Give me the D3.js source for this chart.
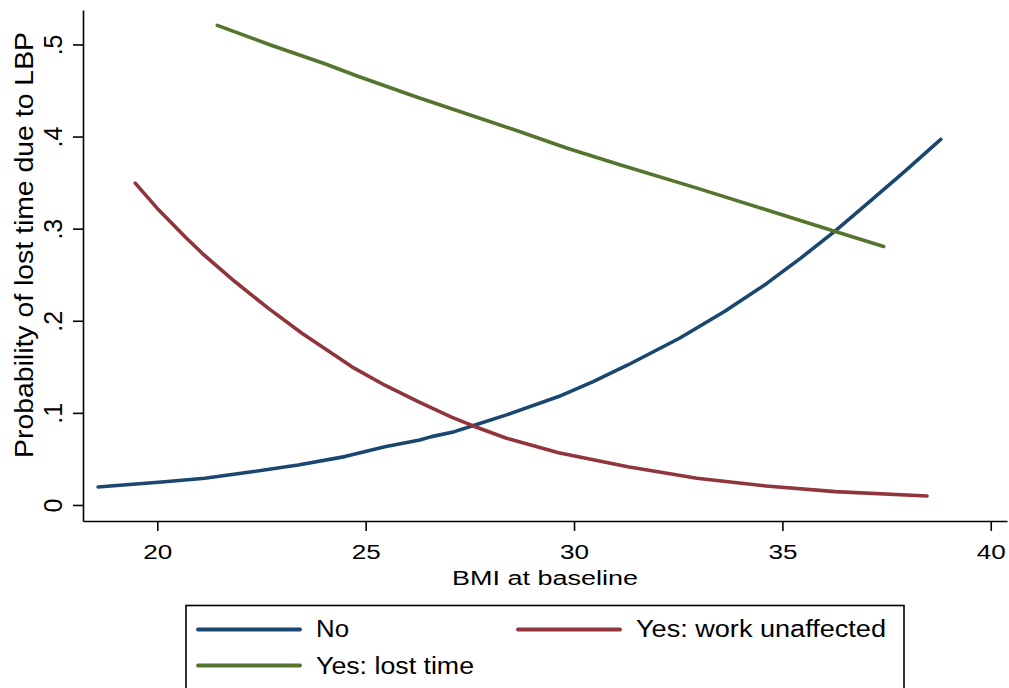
<!DOCTYPE html>
<html>
<head>
<meta charset="utf-8">
<script src="https://cdn.jsdelivr.net/npm/d3@7"></script>
<style>
  html, body { margin: 0; padding: 0; background: #fff; }
  svg { display: block; }
  text { font-family: "Liberation Sans", Arial, Helvetica, sans-serif; fill: #000; }
</style>
</head>
<body>
<svg id="chart" width="1009" height="688"></svg>
<script>
// ---- data ----
const seriesNames = ["No", "Yes: work unaffected", "Yes: lost time"];
const seriesColors = ["#1a476f", "#90353b", "#55752f"];

const bmiNo  = [18.58, 19.18, 20.18, 21.14, 22.27, 23.38, 24.50, 25.46, 26.30, 26.58, 27.13, 27.55, 28.38, 29.63, 30.46, 31.29, 32.53, 33.61, 34.61, 35.44, 36.27, 37.10, 37.93, 38.80];
const probNo = [0.0196, 0.0217, 0.0253, 0.0290, 0.0360, 0.0435, 0.0525, 0.0633, 0.0706, 0.0742, 0.0796, 0.0858, 0.0978, 0.1177, 0.1340, 0.1520, 0.1810, 0.2100, 0.2400, 0.2680, 0.2976, 0.3295, 0.3620, 0.3970];

const bmiUnaff  = [19.47, 20.00, 20.66, 21.07, 21.86, 22.66, 23.47, 24.67, 25.46, 26.26, 27.06, 27.58, 28.38, 29.63, 31.29, 32.95, 34.61, 36.27, 38.47];
const probUnaff = [0.3494, 0.3220, 0.2914, 0.2735, 0.2426, 0.2137, 0.1865, 0.1500, 0.1300, 0.1122, 0.0953, 0.0858, 0.0724, 0.0568, 0.0416, 0.0290, 0.0206, 0.0145, 0.0098];

const bmiLost  = [21.44, 22.70, 24.02, 24.78, 26.22, 27.42, 28.62, 29.82, 31.10, 32.95, 34.61, 36.27, 37.43];
const probLost = [0.5207, 0.4997, 0.4790, 0.4660, 0.4429, 0.4247, 0.4066, 0.3875, 0.3693, 0.3440, 0.3205, 0.2969, 0.2806];

const xTicks = [20, 25, 30, 35, 40];
const xTickLabels = ["20", "25", "30", "35", "40"];
const yTicks = [0, 0.1, 0.2, 0.3, 0.4, 0.5];
const yTickLabels = ["0", ".1", ".2", ".3", ".4", ".5"];

const xTitle = "BMI at baseline";
const yTitle = "Probability of lost time due to LBP";

// ---- drawing ----
const svg = d3.select("#chart");

const x = d3.scaleLinear().domain([18.217, 40.39]).range([83, 1007]);
const y = d3.scaleLinear().domain([-0.0174, 0.5374]).range([521, 10]);

// x axis
const xAxis = d3.axisBottom(x)
  .tickValues(xTicks)
  .tickFormat((d, i) => xTickLabels[i])
  .tickSizeInner(10)
  .tickSizeOuter(0)
  .tickPadding(6);
const gx = svg.append("g").attr("transform", "translate(0,521)").call(xAxis);
gx.select(".domain").attr("stroke", "#000").attr("stroke-width", 1.6);
gx.selectAll(".tick line").attr("stroke", "#000").attr("stroke-width", 1.6);
gx.selectAll(".tick text")
  .attr("y", 38)
  .attr("dy", null)
  .attr("font-size", 20)
  .attr("textLength", 29)
  .attr("lengthAdjust", "spacingAndGlyphs")
  .attr("fill", "#000");

// y axis
const yAxis = d3.axisLeft(y)
  .tickValues(yTicks)
  .tickFormat((d, i) => yTickLabels[i])
  .tickSizeInner(10)
  .tickSizeOuter(0);
const gy = svg.append("g").attr("transform", "translate(83,0)").call(yAxis);
gy.select(".domain").attr("stroke", "#000").attr("stroke-width", 1.6);
gy.selectAll(".tick line").attr("stroke", "#000").attr("stroke-width", 1.6);
gy.selectAll(".tick text")
  .attr("x", null).attr("dy", null)
  .attr("text-anchor", "middle")
  .attr("font-size", 25)
  .attr("transform", "translate(-21.5,0) rotate(-90)")
  .attr("fill", "#000");

// axis titles
svg.append("text")
  .attr("x", 545).attr("y", 585)
  .attr("text-anchor", "middle")
  .attr("font-size", 20)
  .attr("textLength", 186)
  .attr("lengthAdjust", "spacingAndGlyphs")
  .text(xTitle);

svg.append("text")
  .attr("transform", "translate(33,245) rotate(-90)")
  .attr("text-anchor", "middle")
  .attr("font-size", 25)
  .attr("textLength", 426)
  .attr("lengthAdjust", "spacingAndGlyphs")
  .text(yTitle);

// lines
const series = [
  { name: seriesNames[0], color: seriesColors[0], xs: bmiNo, ys: probNo },
  { name: seriesNames[1], color: seriesColors[1], xs: bmiUnaff, ys: probUnaff },
  { name: seriesNames[2], color: seriesColors[2], xs: bmiLost, ys: probLost }
];
const line = d3.line().x(d => x(d[0])).y(d => y(d[1]));
svg.append("g").selectAll("path")
  .data(series)
  .join("path")
  .attr("d", s => line(s.xs.map((v, i) => [v, s.ys[i]])))
  .attr("fill", "none")
  .attr("stroke", s => s.color)
  .attr("stroke-width", 3.6)
  .attr("stroke-linecap", "round")
  .attr("stroke-linejoin", "round");

// legend
const lg = svg.append("g");
lg.append("rect")
  .attr("x", 186).attr("y", 605.5)
  .attr("width", 718).attr("height", 100)
  .attr("fill", "#fff").attr("stroke", "#000").attr("stroke-width", 1.6);

const legendItems = [
  { s: series[0], lx: 198, ly: 629.5, tx: 316, ty: 637, tl: 33 },
  { s: series[1], lx: 518, ly: 629.5, tx: 636, ty: 637, tl: 250 },
  { s: series[2], lx: 198, ly: 665.5, tx: 316, ty: 674, tl: 158 }
];
legendItems.forEach(it => {
  lg.append("line")
    .attr("x1", it.lx).attr("x2", it.lx + 102)
    .attr("y1", it.ly).attr("y2", it.ly)
    .attr("stroke", it.s.color).attr("stroke-width", 3.8)
    .attr("stroke-linecap", "round");
  lg.append("text")
    .attr("x", it.tx).attr("y", it.ty)
    .attr("font-size", 23)
    .attr("textLength", it.tl)
    .attr("lengthAdjust", "spacingAndGlyphs")
    .text(it.s.name);
});
</script>
</body>
</html>
